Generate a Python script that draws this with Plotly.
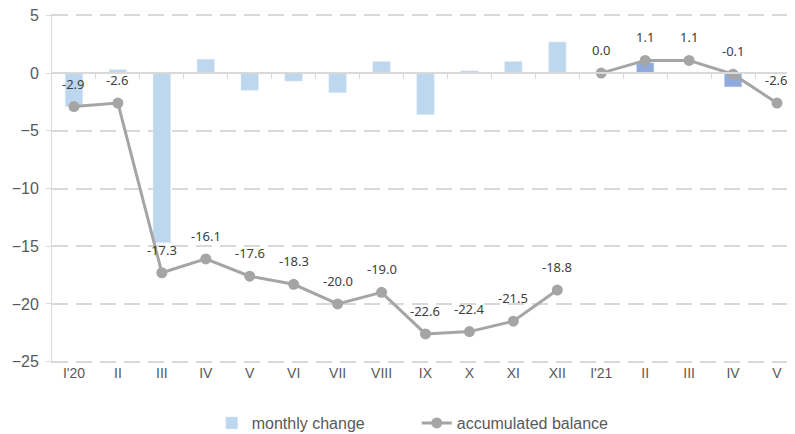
import plotly.graph_objects as go

categories = ["I'20", "II", "III", "IV", "V", "VI", "VII", "VIII", "IX", "X", "XI", "XII",
              "I'21", "II", "III", "IV", "V"]
monthly_2020 = [-2.9, 0.3, -14.7, 1.2, -1.5, -0.7, -1.7, 1.0, -3.6, 0.2, 1.0, 2.7]
monthly_2021 = [0.0, 0.9, 0.0, -1.2, None]
acc_2020 = [-2.9, -2.6, -17.3, -16.1, -17.6, -18.3, -20.0, -19.0, -22.6, -22.4, -21.5, -18.8]
acc_2021 = [0.0, 1.1, 1.1, -0.1, -2.6]
y_ticks = [5, 0, -5, -10, -15, -20, -25]

x_all = list(range(len(categories)))
x20 = x_all[:12]
x21 = x_all[12:]

label_font = dict(family="Noto Sans, DejaVu Sans, sans-serif", size=13, color="#404040")
narrow = "Liberation Sans Narrow, Arial Narrow, Liberation Sans, sans-serif"
grey = "#a5a5a5"

fig = go.Figure()
fig.add_trace(go.Bar(x=x20, y=monthly_2020, name="monthly change", marker_color="#bdd7ee",
                     width=0.4, hoverinfo="y"))
fig.add_trace(go.Bar(x=x21, y=monthly_2021, name="monthly change 2021", marker_color="#8faadc",
                     width=0.4, showlegend=False, hoverinfo="y"))
fig.add_trace(go.Scatter(x=x20, y=acc_2020, name="accumulated balance", mode="lines+markers",
                         line=dict(color=grey, width=3), marker=dict(color=grey, size=11)))
fig.add_trace(go.Scatter(x=x21, y=acc_2021, name="accumulated balance", mode="lines+markers",
                         line=dict(color=grey, width=3), marker=dict(color=grey, size=11),
                         showlegend=False))
# category-axis line with tick marks at zero
fig.add_trace(go.Scatter(x=[None], y=[None], xaxis="x2", showlegend=False, hoverinfo="skip"))

annotations = []
for xs, ys in ((x20, acc_2020), (x21, acc_2021)):
    for xv, yv in zip(xs, ys):
        annotations.append(dict(x=xv, y=yv, text=f"{yv:.1f}", showarrow=False, yshift=23,
                                font=label_font, xref="x", yref="y"))

y_lo, y_hi = -25.12, 5.12
fig.update_layout(
    width=787, height=426,
    margin=dict(l=44, r=0, t=6, b=71, autoexpand=False),
    plot_bgcolor="white", paper_bgcolor="white",
    barmode="overlay",
    font=dict(family=narrow, color="#595959"),
    annotations=annotations,
    xaxis=dict(range=[-0.5, 16.41], tickvals=x_all, ticktext=categories, showgrid=False,
               showline=False, ticks="", zeroline=False, automargin=False,
               tickfont=dict(size=14, color="#595959", family=narrow)),
    xaxis2=dict(overlaying="x", anchor="free", position=-y_lo / (y_hi - y_lo),
                range=[-0.5, 16.41],
                tickvals=[i + 0.5 for i in x_all], showticklabels=False, ticks="outside",
                ticklen=5, tickcolor="#d9d9d9", showline=True, linecolor="#d9d9d9",
                linewidth=1.5, showgrid=False, zeroline=False, automargin=False),
    yaxis=dict(range=[y_lo, y_hi], tickvals=y_ticks, showgrid=True, gridcolor="#d9d9d9",
               griddash="16px,8px", gridwidth=2, zeroline=False, showline=True,
               linecolor="#d9d9d9", ticks="outside", ticklen=5, tickcolor="#d9d9d9",
               automargin=False, ticklabelstandoff=4, ticklabeloverflow="allow",
               tickfont=dict(size=16, color="#595959", family=narrow)),
    legend=dict(orientation="h", x=0.215, xanchor="left", y=-0.172, yanchor="middle",
                entrywidth=160, font=dict(size=16, color="#595959", family=narrow),
                traceorder="normal"),
    showlegend=True,
)

fig.write_html("out.html")
